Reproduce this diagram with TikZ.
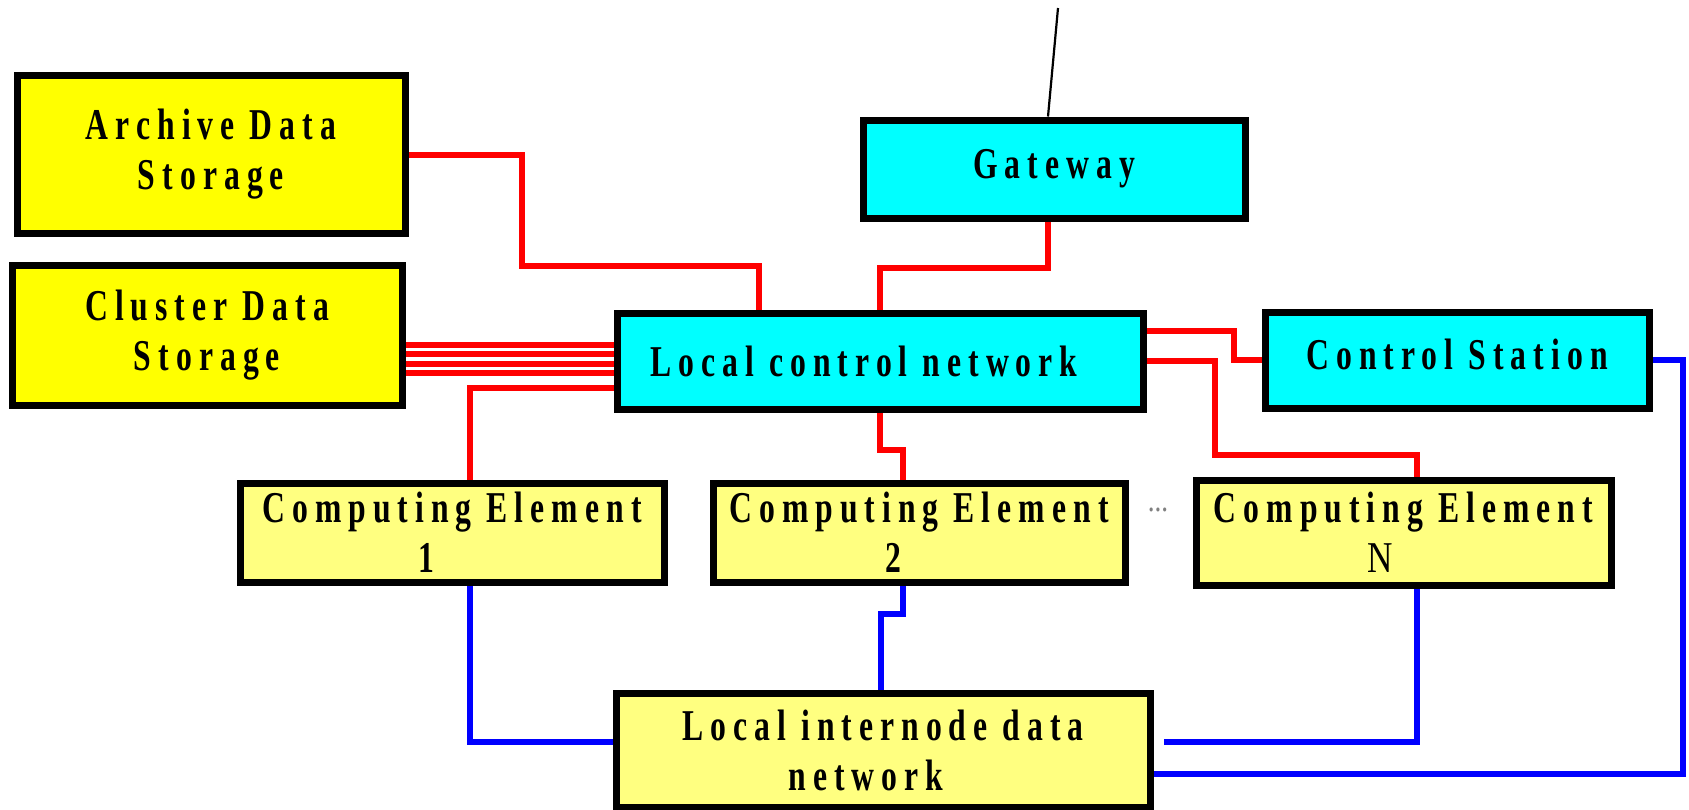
\documentclass[tikz,border=0pt]{standalone}
\usepackage{fontspec}
\usetikzlibrary{calc}
\newfontfamily\lbl[FakeStretch=0.72,LetterSpace=16]{Liberation Serif}
\newfontfamily\lblplain[FakeStretch=0.8]{Liberation Serif}

\definecolor{storeyellow}{RGB}{255,255,0}
\definecolor{netcyan}{RGB}{0,255,255}
\definecolor{paleyellow}{RGB}{255,255,128}

\pgfdeclarelayer{bg}
\pgfsetlayers{bg,main}

\tikzset{
  box/.style={draw=black, line width=7pt, inner sep=0pt, align=center,
              font=\lbl\bfseries\fontsize{44}{50}\selectfont},
  storebox/.style={box, fill=storeyellow},
  netbox/.style={box, fill=netcyan},
  cebox/.style={box, fill=paleyellow},
  redline/.style={draw=red, line width=6pt},
  blueline/.style={draw=blue, line width=6pt},
}

\begin{document}
\begin{tikzpicture}[x=1pt,y=-1pt]
\useasboundingbox (0,0) rectangle (1689,809);

% storage
\node[storebox, minimum width=388pt, minimum height=158pt] (arch) at (211,154) {Archive Data\\Storage};
\node[storebox, minimum width=390pt, minimum height=140pt] (clus) at (207,335) {Cluster Data\\Storage};

% control side
\node[netbox, minimum width=382pt, minimum height=98pt] (gate) at (1054,169) {Gateway};
\node[netbox, minimum width=526pt, minimum height=96pt] (lcn) at (880,361) {Local control network\rule{32pt}{0pt}};
\node[netbox, minimum width=384pt, minimum height=96pt] (cs) at (1457,360) {\raisebox{12pt}{Control Station}};

% computing elements
\node[cebox, minimum width=424pt, minimum height=99pt] (ce1) at (452,532.5) {Computing Element\\1\rule{52pt}{0pt}};
\node[cebox, minimum width=412pt, minimum height=99pt] (ce2) at (919,532.5) {Computing Element\\2\rule{52pt}{0pt}};
\node[cebox, minimum width=415pt, minimum height=105pt] (ceN) at (1403.5,532.5) {Computing Element\\{\lblplain\mdseries N}\rule{46pt}{0pt}};
\node[text=gray, font=\lblplain\fontsize{34}{36}\selectfont] (dots) at (1158,510) {...};

% internode network
\node[cebox, minimum width=534pt, minimum height=114pt] (li) at (883,750) {Local internode data\\network\rule{34pt}{0pt}};

% uplink from the gateway
\coordinate (uplink) at (1058,8);

\begin{pgfonlayer}{bg}
  % control network (red)
  \draw[redline] (arch.east |- 0,155) -| (522,266) -| (lcn.north -| 759,0);
  \draw[redline] (gate.south -| 1048,0) -- (1048,268) -| (lcn.north -| 880,0);
  \foreach \yy in {345,354,364,373}
    \draw[redline] (clus.east |- 0,\yy) -- (lcn.west |- 0,\yy);
  \draw[redline] (ce1.north -| 470,0) |- (lcn.west |- 0,388);
  \draw[redline] (lcn.south -| 880,0) -- (880,450) -| (ce2.north -| 903,0);
  \draw[redline] (lcn.east |- 0,331) -| (1234,360) -- (cs.west |- 0,360);
  \draw[redline] (lcn.east |- 0,361) -| (1215,455) -| (ceN.north -| 1417,0);

  % data network (blue)
  \draw[blueline] (ce1.south -| 470,0) |- (li.west |- 0,742);
  \draw[blueline] (ce2.south -| 903,0) -- (903,614) -| (li.north -| 881,0);
  \draw[blueline, shorten >=10pt] (ceN.south -| 1417,0) |- (li.east |- 0,742);
  \draw[blueline] (cs.east |- 0,360) -| (1683,774) -- (li.east |- 0,774);

  % external link
  \draw[black, line width=2.2pt] (gate.north -| 1048,0) -- (uplink);
\end{pgfonlayer}
\end{tikzpicture}
\end{document}
